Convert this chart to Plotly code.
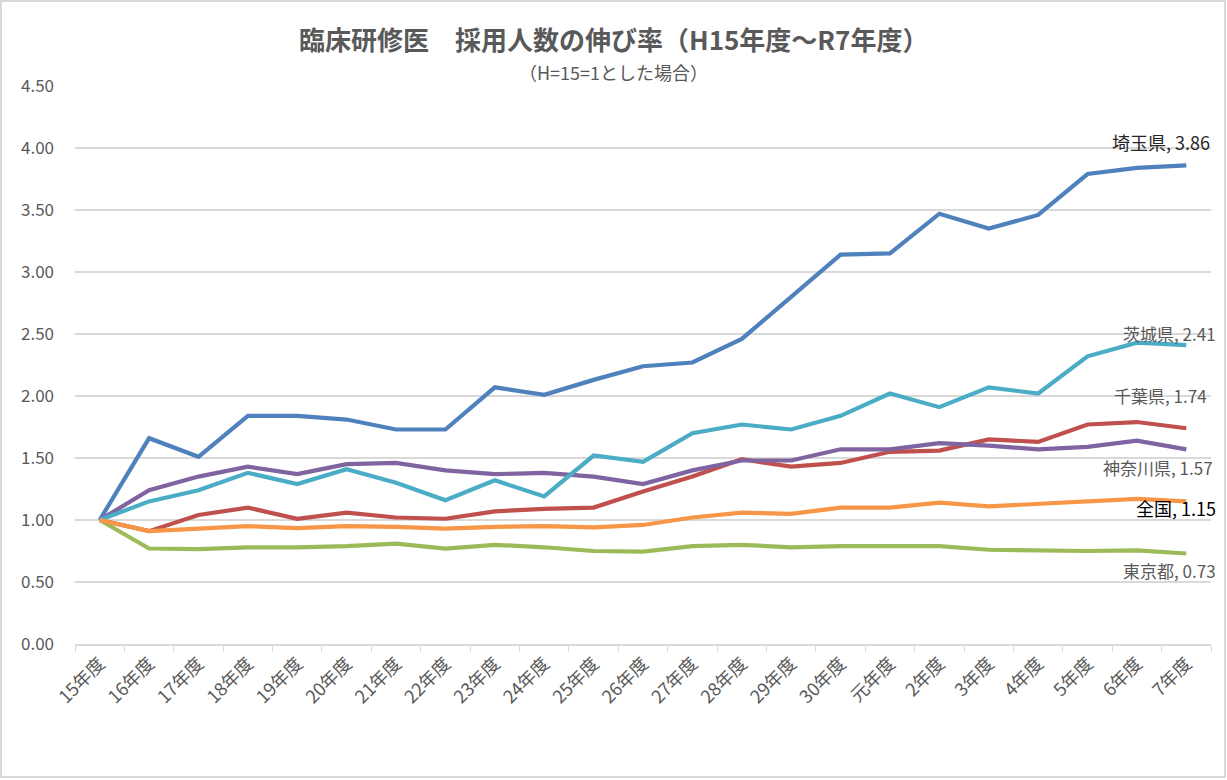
import plotly.graph_objects as go

categories = ["15年度", "16年度", "17年度", "18年度", "19年度", "20年度", "21年度", "22年度",
              "23年度", "24年度", "25年度", "26年度", "27年度", "28年度", "29年度", "30年度",
              "元年度", "2年度", "3年度", "4年度", "5年度", "6年度", "7年度"]

saitama = [1.00, 1.66, 1.51, 1.84, 1.84, 1.81, 1.73, 1.73, 2.07, 2.01, 2.13, 2.24, 2.27,
           2.46, 2.80, 3.14, 3.15, 3.47, 3.35, 3.46, 3.79, 3.84, 3.86]
chiba = [1.00, 0.91, 1.04, 1.10, 1.01, 1.06, 1.02, 1.01, 1.07, 1.09, 1.10, 1.23, 1.35,
         1.49, 1.43, 1.46, 1.55, 1.56, 1.65, 1.63, 1.77, 1.79, 1.74]
tokyo = [1.00, 0.77, 0.765, 0.78, 0.78, 0.79, 0.81, 0.77, 0.80, 0.78, 0.75, 0.745, 0.79,
         0.80, 0.78, 0.79, 0.79, 0.79, 0.76, 0.755, 0.75, 0.755, 0.73]
kanagawa = [1.00, 1.24, 1.35, 1.43, 1.37, 1.45, 1.46, 1.40, 1.37, 1.38, 1.35, 1.29, 1.40,
            1.48, 1.48, 1.57, 1.57, 1.62, 1.60, 1.57, 1.59, 1.64, 1.57]
ibaraki = [1.00, 1.15, 1.24, 1.38, 1.29, 1.41, 1.30, 1.16, 1.32, 1.19, 1.52, 1.47, 1.70,
           1.77, 1.73, 1.84, 2.02, 1.91, 2.07, 2.02, 2.32, 2.43, 2.41]
zenkoku = [1.00, 0.91, 0.93, 0.95, 0.935, 0.95, 0.945, 0.93, 0.945, 0.95, 0.94, 0.96, 1.02,
           1.06, 1.05, 1.10, 1.10, 1.14, 1.11, 1.13, 1.15, 1.17, 1.15]

series_names = ["埼玉県", "千葉県", "東京都", "神奈川県", "茨城県", "全国"]
series_values = [saitama, chiba, tokyo, kanagawa, ibaraki, zenkoku]
series_colors = ["#4F81BD", "#C0504D", "#9BBB59", "#8064A2", "#4BACC6", "#F79646"]
end_labels = ["3.86", "1.74", "0.73", "1.57", "2.41", "1.15"]

y_ticks = [0, 0.5, 1.0, 1.5, 2.0, 2.5, 3.0, 3.5, 4.0, 4.5]

FONT = "Noto Sans CJK JP"
GRAY = "#595959"

W, H = 1227, 780
ML, MR, MT, MB = 75, 16, 86, 136
PW, PH = W - ML - MR, H - MT - MB

def px_x(x):
    return (x - ML) / PW

def px_y(y):
    return 1 - (y - MT) / PH

fig = go.Figure()
for name, vals, col in zip(series_names, series_values, series_colors):
    fig.add_trace(go.Scatter(x=categories, y=vals, mode="lines", name=name,
                             line=dict(color=col, width=4.2), hoverinfo="skip"))

# label placement (pixel offsets from end point)
label_style = {
    "埼玉県": dict(yshift=23, xshift=26, color="#262626", size=18),
    "千葉県": dict(yshift=33, xshift=23, color=GRAY, size=17),
    "東京都": dict(yshift=-17, xshift=32, color=GRAY, size=17),
    "神奈川県": dict(yshift=-18, xshift=29, color=GRAY, size=17),
    "茨城県": dict(yshift=12, xshift=32, color=GRAY, size=17),
    "全国": dict(yshift=-7, xshift=32, color="#000000", size=18),
}
for name, vals, lab in zip(series_names, series_values, end_labels):
    st = label_style[name]
    fig.add_annotation(x=categories[-1], y=vals[-1], xref="x", yref="y",
                       text=f"{name}, {lab}", showarrow=False, xanchor="right",
                       yanchor="middle", xshift=st["xshift"], yshift=st["yshift"],
                       font=dict(family=FONT, size=st["size"], color=st["color"]))

fig.add_annotation(x=px_x(613), y=px_y(38), xref="paper", yref="paper",
                   text="<b>臨床研修医　採用人数の伸び率（H15年度～R7年度）</b>",
                   showarrow=False, xanchor="center", yanchor="middle",
                   font=dict(family=FONT, size=26, color=GRAY))
fig.add_annotation(x=px_x(613), y=px_y(72), xref="paper", yref="paper",
                   text="（H=15=1とした場合）",
                   showarrow=False, xanchor="center", yanchor="middle",
                   font=dict(family=FONT, size=18, color=GRAY))

# chart border
fig.add_shape(type="rect", xref="paper", yref="paper",
              x0=px_x(1), x1=px_x(1225), y0=px_y(777), y1=px_y(1),
              line=dict(color="#d9d9d9", width=2), fillcolor="rgba(0,0,0,0)", layer="below")

fig.update_layout(
    width=W, height=H,
    margin=dict(l=ML, r=MR, t=MT, b=MB),
    paper_bgcolor="white", plot_bgcolor="white",
    showlegend=False,
    font=dict(family=FONT, color=GRAY, size=16),
    xaxis=dict(type="category", range=[-0.5, len(categories) - 0.5],
               tickangle=-45, tickson="boundaries", ticks="outside", ticklen=6,
               tickcolor="#d9d9d9", showline=True, linecolor="#d9d9d9", linewidth=2,
               showgrid=False, tickfont=dict(family=FONT, size=18, color=GRAY)),
    yaxis=dict(range=[0, 4.5], tickvals=y_ticks,
               ticktext=[f"{v:.2f}" for v in y_ticks],
               showgrid=True, gridcolor="#d9d9d9", gridwidth=1.5, zeroline=False,
               showline=False, ticks="", ticklabelstandoff=20,
               tickfont=dict(family=FONT, size=17, color=GRAY)),
)

fig.write_html("out.html", config={"displayModeBar": False},
               post_script="document.body.style.margin='0px';")
